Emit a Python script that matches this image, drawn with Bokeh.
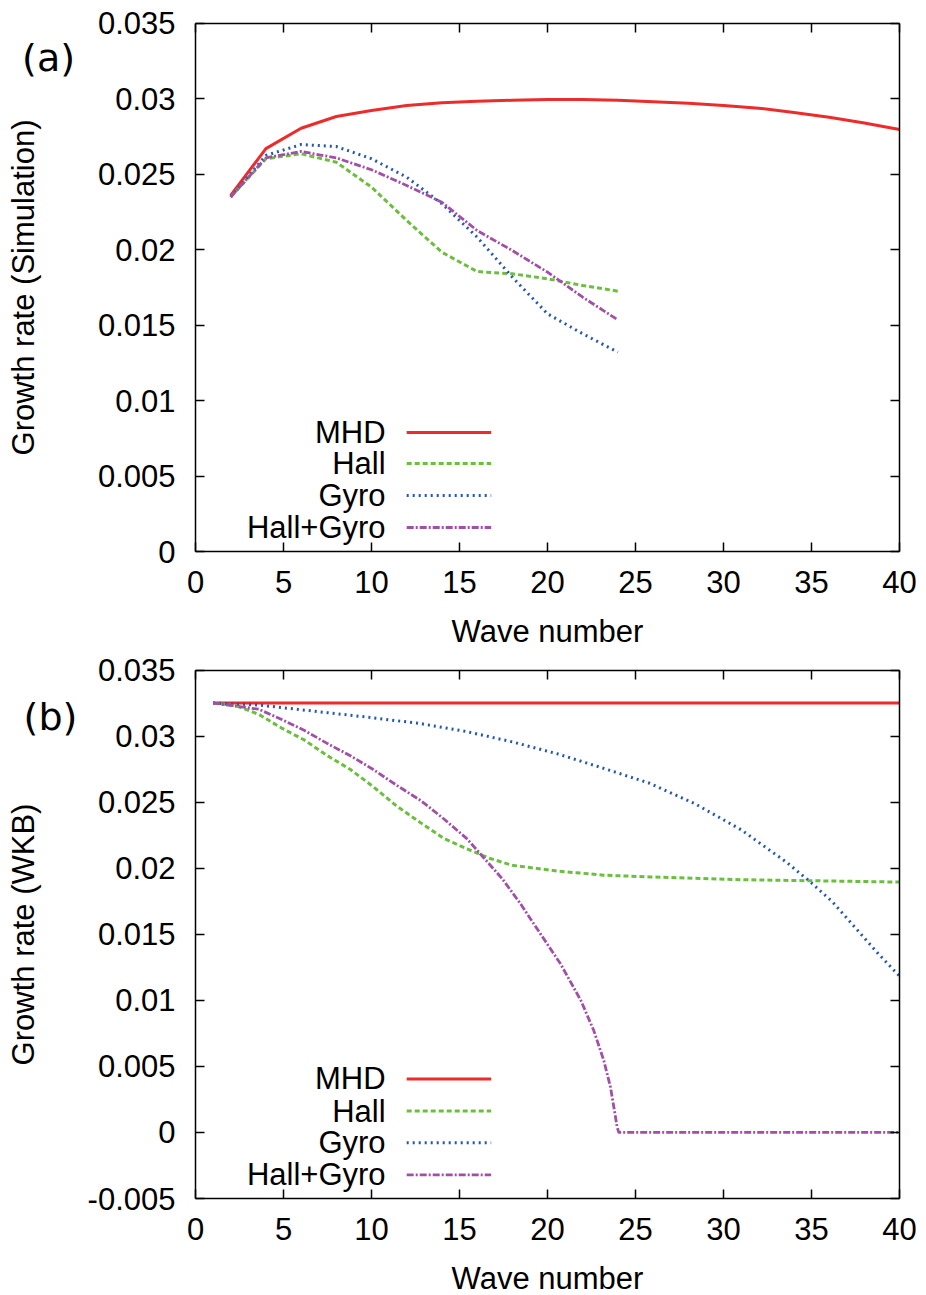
from bokeh.plotting import figure
from bokeh.layouts import column
from bokeh.models import (Range1d, FixedTicker, LinearAxis, Label, CustomJSTickFormatter,
                          CustomLabelingPolicy)
from bokeh.core.properties import value
from bokeh.embed import file_html
from bokeh.resources import INLINE

# ---------------- data ----------------
x_ticks = [0, 5, 10, 15, 20, 25, 30, 35, 40]
x_tick_labels = ["0", "5", "10", "15", "20", "25", "30", "35", "40"]

sim_y_ticks = [0, 0.005, 0.01, 0.015, 0.02, 0.025, 0.03, 0.035]
sim_y_labels = ["0", "0.005", "0.01", "0.015", "0.02", "0.025", "0.03", "0.035"]
wkb_y_ticks = [-0.005, 0, 0.005, 0.01, 0.015, 0.02, 0.025, 0.03, 0.035]
wkb_y_labels = ["-0.005", "0", "0.005", "0.01", "0.015", "0.02", "0.025", "0.03", "0.035"]

series_names = ["MHD", "Hall", "Gyro", "Hall+Gyro"]

# (a) simulation
sim_k_mhd = [2, 4, 6, 8, 10, 12, 14, 16, 18, 20, 22, 24, 26, 28, 30, 32, 34, 36, 38, 40]
sim_mhd = [0.0236, 0.0267, 0.02805, 0.02883, 0.02923, 0.02956, 0.02974, 0.02984, 0.0299, 0.02995,
           0.02996, 0.0299, 0.0298, 0.02971, 0.02955, 0.02938, 0.0291, 0.02878, 0.0284, 0.02797]
sim_k = [2, 4, 6, 8, 10, 12, 14, 16, 18, 20, 22, 24]
sim_hall = [0.0235, 0.02603, 0.02636, 0.0258, 0.02415, 0.02194, 0.01984, 0.01856, 0.01841, 0.01808, 0.01764, 0.01726]
sim_gyro = [0.0235, 0.02625, 0.02697, 0.02684, 0.02603, 0.02481, 0.02305, 0.02084, 0.01819, 0.01576, 0.01444, 0.01322]
sim_hallgyro = [0.0235, 0.02609, 0.02651, 0.02609, 0.0253, 0.02426, 0.02315, 0.02128, 0.01995, 0.01852, 0.01686, 0.01536]

# (b) WKB
wkb_k_mhd = [1, 40]
wkb_mhd = [0.0325, 0.0325]
wkb_k_hall = [1, 2.3, 3.6, 4.9, 6.2, 7.5, 8.8, 10.1, 11.4, 12.8, 14.1, 15.4, 16.7, 18.0, 20.6, 23.2, 25.8, 31.0, 40.0]
wkb_hall = [0.0325, 0.0323, 0.03164, 0.0306, 0.02969, 0.02851, 0.02747, 0.02617, 0.02473, 0.02343,
            0.02226, 0.02148, 0.02075, 0.02022, 0.01978, 0.01947, 0.01934, 0.01913, 0.01895]
wkb_k_gyro = [1, 3.6, 7.5, 10.1, 12.8, 15.4, 18.0, 20.6, 23.2, 25.8, 28.4, 31.0, 33.6, 34.9, 36.2, 37.5, 38.8, 40.0]
wkb_gyro = [0.0325, 0.03235, 0.03177, 0.03138, 0.03094, 0.03034, 0.02956, 0.02864, 0.02755, 0.02643,
            0.02486, 0.02291, 0.02043, 0.019, 0.01744, 0.01548, 0.01352, 0.01183]
wkb_k_hallgyro = [1, 3.6, 4.9, 6.2, 7.5, 8.8, 10.1, 11.4, 12.8, 14.1, 15.4, 16.7, 17.43, 18.47, 19.6,
                  20.74, 21.9, 22.63, 23.2, 23.58, 23.96, 24.05, 40.0]
wkb_hallgyro = [0.0325, 0.03203, 0.03125, 0.03042, 0.02943, 0.02851, 0.02747, 0.0263, 0.02512, 0.02374,
                0.02226, 0.0203, 0.0192, 0.0173, 0.01503, 0.01276, 0.00998, 0.00771, 0.00544, 0.00342,
                0.00039, 0.0, 0.0]

# ---------------- style / layout ----------------
FONT = "Liberation Sans"
FS = "31px"
colors = ["#EE2B2B", "#6CBF3E", "#2357B0", "#A050A6"]
dashes = ["solid", "5 3", "2 4", "7 2 2 2"]
widths = [3, 3, 3, 2.8]

W = 926
FRAME_L, FRAME_R = 195, 899          # pixel columns of the plotting box
X_LO, X_HI = 0, 40


def fmt(ticks, labels):
    return CustomJSTickFormatter(args=dict(vals=ticks, labs=labels), code="""
        for (let i = 0; i < vals.length; i++) {
            if (Math.abs(vals[i] - tick) < 1e-9) { return labs[i]; }
        }
        return String(tick);
    """)


def style_axis(ax):
    ax.major_tick_in = 9
    ax.major_tick_out = 0
    ax.minor_tick_in = 0
    ax.minor_tick_out = 0
    ax.axis_line_color = "black"
    ax.axis_line_width = 1.5
    ax.major_tick_line_color = "black"
    ax.major_tick_line_width = 1.5
    ax.major_label_text_font = FONT
    ax.major_label_text_font_size = FS
    ax.major_label_text_color = "black"
    ax.axis_label_text_font = FONT
    ax.axis_label_text_font_size = FS
    ax.axis_label_text_font_style = "normal"
    ax.axis_label_text_color = "black"


def make_panel(height, box_top, box_bot, y_lo, y_hi, yticks, ylabels, ylabel, ylab_standoff,
               tag, tag_x, tag_y, curves, legend_rows):
    # the whole canvas is the frame; the box is drawn by four axes at fixed locations
    ppx = (FRAME_R - FRAME_L) / (X_HI - X_LO)
    ppy = (box_bot - box_top) / (y_hi - y_lo)
    xr = Range1d(X_LO - FRAME_L / ppx, X_HI + (W - FRAME_R) / ppx)
    yr = Range1d(y_lo - (height - box_bot) / ppy, y_hi + box_top / ppy)

    p = figure(width=W, height=height, output_backend="svg", toolbar_location=None,
               x_range=xr, y_range=yr, x_axis_location=None, y_axis_location=None,
               min_border=0)
    p.grid.visible = False
    p.outline_line_color = None
    p.background_fill_color = "white"
    p.border_fill_color = "white"

    bottom = LinearAxis(ticker=FixedTicker(ticks=x_ticks), formatter=fmt(x_ticks, x_tick_labels),
                        fixed_location=y_lo, bounds=(X_LO, X_HI), axis_label="Wave number")
    left = LinearAxis(ticker=FixedTicker(ticks=yticks), formatter=fmt(yticks, ylabels),
                      fixed_location=X_LO, bounds=(y_lo, y_hi), axis_label=ylabel)
    top = LinearAxis(ticker=FixedTicker(ticks=x_ticks), fixed_location=y_hi, bounds=(X_LO, X_HI))
    right = LinearAxis(ticker=FixedTicker(ticks=yticks), fixed_location=X_HI, bounds=(y_lo, y_hi))
    for ax in (bottom, left, top, right):
        style_axis(ax)
    for ax in (top, right):
        ax.major_label_policy = CustomLabelingPolicy(code="return;")
    bottom.major_label_standoff = 19
    bottom.axis_label_standoff = 18
    left.major_label_standoff = 20
    left.axis_label_standoff = ylab_standoff
    p.add_layout(bottom, "below")
    p.add_layout(left, "left")
    p.add_layout(top, "above")
    p.add_layout(right, "right")

    for (kx, ky), c, d, w in zip(curves, colors, dashes, widths):
        p.line(kx, ky, line_color=c, line_dash=d, line_width=w, line_join="round")

    # legend (text to the left of the sample line)
    for name, c, d, w, ry in zip(series_names, colors, dashes, widths, legend_rows):
        p.line([12.0, 16.8], [ry, ry], line_color=c, line_dash=d, line_width=w)
        p.text(x=[10.8], y=[ry], text=[name], text_align="right", text_baseline="middle",
               text_font=value(FONT), text_font_size=FS, text_color="black")

    p.add_layout(Label(x=tag_x, y=tag_y, text=tag, text_align="center", text_baseline="middle",
                       text_font="DejaVu Sans", text_font_size="38px", text_color="black"))
    return p


p1 = make_panel(648, 22.8, 551.3, 0, 0.035, sim_y_ticks, sim_y_labels,
                "Growth rate (Simulation)", 54,
                "(a)", -8.35, 0.03267,
                [(sim_k_mhd, sim_mhd), (sim_k, sim_hall), (sim_k, sim_gyro), (sim_k, sim_hallgyro)],
                [0.0079, 0.00585, 0.00373, 0.00161])
p2 = make_panel(647, 21.5, 550.0, -0.005, 0.035, wkb_y_ticks, wkb_y_labels,
                "Growth rate (WKB)", 44,
                "(b)", -8.24, 0.03148,
                [(wkb_k_mhd, wkb_mhd), (wkb_k_hall, wkb_hall), (wkb_k_gyro, wkb_gyro),
                 (wkb_k_hallgyro, wkb_hallgyro)],
                [0.00405, 0.00162, -0.00078, -0.00321])

layout = column(p1, p2, spacing=0)
open("out.html", "w").write(file_html(layout, INLINE))
